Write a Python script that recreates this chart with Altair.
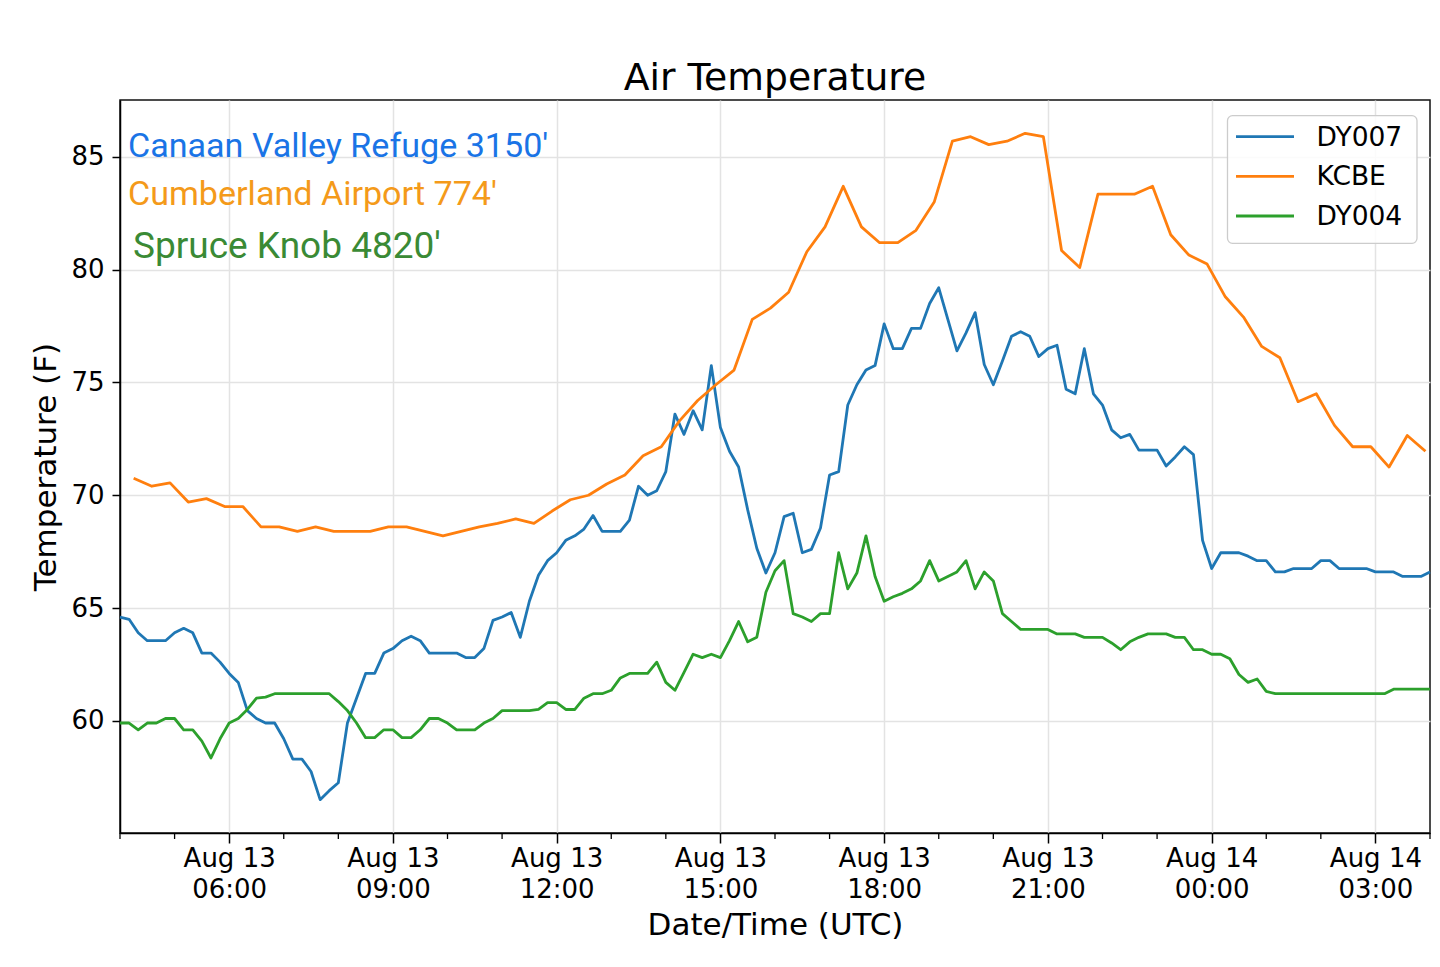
import altair as alt
import pandas as pd
from datetime import datetime, timedelta, timezone

# ---------------- data ----------------
STATIONS = ["DY007", "KCBE", "DY004"]
COLORS = ["#1f77b4", "#ff7f0e", "#2ca02c"]

# DY007 (Canaan Valley Refuge), every 10 min from Aug 13 04:00 UTC
DY007 = [64.6, 64.5, 63.9, 63.55, 63.55, 63.55, 63.9, 64.1, 63.9, 63.0,
         63.0, 62.6, 62.1, 61.7, 60.45, 60.1, 59.9, 59.9, 59.2, 58.3,
         58.3, 57.75, 56.5, 56.9, 57.25, 59.9, 61.0, 62.1, 62.1, 63.0,
         63.2, 63.55, 63.75, 63.55, 63.0, 63.0, 63.0, 63.0, 62.8, 62.8,
         63.2, 64.45, 64.6, 64.8, 63.7, 65.3, 66.45, 67.1, 67.45, 68.0,
         68.2, 68.5, 69.1, 68.4, 68.4, 68.4, 68.9, 70.4, 70.0, 70.2,
         71.05, 73.6, 72.7, 73.75, 72.9, 75.75, 73.0, 71.95, 71.25, 69.35,
         67.65, 66.55, 67.45, 69.05, 69.2, 67.45, 67.6, 68.55, 70.9, 71.05,
         74.0, 74.9, 75.55, 75.75, 77.6, 76.5, 76.5, 77.4, 77.4, 78.5,
         79.2, 77.8, 76.4, 77.2, 78.1, 75.8, 74.9, 75.95, 77.05, 77.25,
         77.05, 76.15, 76.5, 76.65, 74.7, 74.5, 76.5, 74.5, 74.0, 72.9,
         72.55, 72.7, 72.0, 72.0, 72.0, 71.3, 71.7, 72.15, 71.8, 68.0,
         66.75, 67.45, 67.45, 67.45, 67.3, 67.1, 67.1, 66.6, 66.6, 66.75,
         66.75, 66.75, 67.1, 67.1, 66.75, 66.75, 66.75, 66.75, 66.6, 66.6,
         66.6, 66.4, 66.4, 66.4, 66.6]

# DY004 (Spruce Knob), every 10 min from Aug 13 04:00 UTC
DY004 = [59.9, 59.9, 59.6, 59.9, 59.9, 60.1, 60.1, 59.6, 59.6, 59.1,
         58.35, 59.2, 59.9, 60.1, 60.5, 61.0, 61.05, 61.2, 61.2, 61.2,
         61.2, 61.2, 61.2, 61.2, 60.85, 60.45, 59.9, 59.25, 59.25, 59.6,
         59.6, 59.25, 59.25, 59.6, 60.1, 60.1, 59.9, 59.6, 59.6, 59.6,
         59.9, 60.1, 60.45, 60.45, 60.45, 60.45, 60.5, 60.8, 60.8, 60.5,
         60.5, 61.0, 61.2, 61.2, 61.35, 61.9, 62.1, 62.1, 62.1, 62.6,
         61.7, 61.35, 62.15, 62.95, 62.8, 62.95, 62.8, 63.55, 64.4, 63.5,
         63.7, 65.7, 66.65, 67.1, 64.75, 64.6, 64.4, 64.75, 64.75, 67.45,
         65.85, 66.55, 68.2, 66.4, 65.3, 65.5, 65.65, 65.85, 66.2, 67.1,
         66.2, 66.4, 66.6, 67.1, 65.85, 66.6, 66.2, 64.75, 64.4, 64.05,
         64.05, 64.05, 64.05, 63.85, 63.85, 63.85, 63.7, 63.7, 63.7, 63.45,
         63.15, 63.5, 63.7, 63.85, 63.85, 63.85, 63.7, 63.7, 63.15, 63.15,
         62.95, 62.95, 62.75, 62.05, 61.7, 61.85, 61.3, 61.2, 61.2, 61.2,
         61.2, 61.2, 61.2, 61.2, 61.2, 61.2, 61.2, 61.2, 61.2, 61.2,
         61.4, 61.4, 61.4, 61.4, 61.4]

# KCBE (Cumberland Airport), every 20 min from Aug 13 04:15 UTC
KCBE = [70.75, 70.4, 70.55, 69.7, 69.85, 69.5, 69.5, 68.6, 68.6, 68.4,
        68.6, 68.4, 68.4, 68.4, 68.6, 68.6, 68.4, 68.2, 68.4, 68.6,
        68.75, 68.95, 68.75, 69.3, 69.8, 70.0, 70.5, 70.9, 71.75, 72.15,
        73.3, 74.2, 74.9, 75.55, 77.8, 78.3, 79.0, 80.8, 81.9, 83.7,
        81.9, 81.2, 81.2, 81.75, 83.0, 85.7, 85.9, 85.55, 85.7, 86.05,
        85.9, 80.85, 80.1, 83.35, 83.35, 83.35, 83.7, 81.55, 80.65, 80.25,
        78.8, 77.9, 76.6, 76.1, 74.15, 74.5, 73.1, 72.15, 72.15, 71.25,
        72.65, 71.95]

MESONET_START = datetime(2019, 8, 13, 4, 0, tzinfo=timezone.utc)
MESONET_STEP_MIN = 10
KCBE_START = datetime(2019, 8, 13, 4, 15, tzinfo=timezone.utc)
KCBE_STEP_MIN = 20

X_START = datetime(2019, 8, 13, 4, 0, tzinfo=timezone.utc)
X_END = datetime(2019, 8, 14, 4, 0, tzinfo=timezone.utc)
MAJOR_HOURS = [6, 9, 12, 15, 18, 21, 24, 27]          # hours after Aug 13 00:00
MINOR_HOURS = [4, 5, 7, 8, 10, 11, 13, 14, 16, 17, 19, 20, 22, 23, 25, 26, 28]
Y_TICKS = [60, 65, 70, 75, 80, 85]

ANNOT_TEXT = ["Canaan Valley Refuge 3150'", "Cumberland Airport 774'", "Spruce Knob 4820'"]
ANNOT_COLORS = ["#1a74e6", "#f49a1a", "#3a8a35"]
ANNOT_SIZES = [34.1, 34.1, 37]

# ---------------- helpers ----------------
DAY0 = datetime(2019, 8, 13, 0, 0, tzinfo=timezone.utc)


def iso(dt):
    return dt.strftime("%Y-%m-%dT%H:%M:%SZ")


def ms(dt):
    return int(dt.timestamp() * 1000)


rows = []
for name, vals, start, step in [("DY007", DY007, MESONET_START, MESONET_STEP_MIN),
                                ("KCBE", KCBE, KCBE_START, KCBE_STEP_MIN),
                                ("DY004", DY004, MESONET_START, MESONET_STEP_MIN)]:
    for k, v in enumerate(vals):
        rows.append({"time": iso(start + timedelta(minutes=step * k)),
                     "temp": v, "station": name})
df = pd.DataFrame(rows)

allv = DY007 + DY004 + KCBE
span = max(allv) - min(allv)
y_lo = min(allv) - 0.05 * span
y_hi = max(allv) + 0.05 * span

major_ms = [ms(DAY0 + timedelta(hours=h)) for h in MAJOR_HOURS]
minor_df = pd.DataFrame({"time": [iso(DAY0 + timedelta(hours=h)) for h in MINOR_HOURS]})

W, H = 1310, 733
FONT = "DejaVu Sans"
GRID = "#e3e3e3"

x_axis = alt.Axis(
    values=major_ms,
    labelExpr="[utcFormat(datum.value, '%b %d'), utcFormat(datum.value, '%H:%M')]",
    labelFont=FONT, labelFontSize=26, labelColor="black", labelPadding=2,
    labelLineHeight=31, labelOverlap=False, labelFlush=False,
    tickSize=10, tickWidth=1.5, tickColor="black",
    domainColor="black", domainWidth=1.5,
    grid=True, gridColor=GRID, gridWidth=1.5,
    title="Date/Time (UTC)", titleFont=FONT, titleFontSize=31,
    titleFontWeight="normal", titleColor="black",
    titleBaseline="alphabetic", titleY=101,
)
y_axis = alt.Axis(
    values=Y_TICKS,
    labelFont=FONT, labelFontSize=26, labelColor="black", labelPadding=8,
    tickSize=8, tickWidth=1.5, tickColor="black",
    domainColor="black", domainWidth=1.5,
    grid=True, gridColor=GRID, gridWidth=1.5,
    title="Temperature (F)", titleFont=FONT, titleFontSize=31,
    titleFontWeight="normal", titleColor="black",
    titleAngle=270, titleAlign="center", titleBaseline="alphabetic",
    titleX=-65, titleY=H / 2,
)

x_scale = alt.Scale(type="utc", domain=[ms(X_START), ms(X_END)], nice=False)

lines = alt.Chart(df).mark_line(strokeWidth=2.8, strokeJoin="round").encode(
    x=alt.X("time:T", scale=x_scale, axis=x_axis),
    y=alt.Y("temp:Q", scale=alt.Scale(domain=[y_lo, y_hi], nice=False, zero=False), axis=y_axis),
    color=alt.Color("station:N", scale=alt.Scale(domain=STATIONS, range=COLORS), legend=None),
    detail="station:N",
)

minor = alt.Chart(minor_df).mark_rule(color="black", strokeWidth=1.3).encode(
    x=alt.X("time:T"),
    y=alt.value(H), y2=alt.value(H + 6),
)

one = pd.DataFrame({"k": [0]})
layers = [lines, minor]

# station annotations (upper left)
ann_x = [8, 8, 13]
ann_y = [57, 105, 158]
for txt, col, fs, ax, ay in zip(ANNOT_TEXT, ANNOT_COLORS, ANNOT_SIZES, ann_x, ann_y):
    layers.append(alt.Chart(one).mark_text(
        text=txt, color=col, font="Roboto", fontSize=fs,
        align="left", baseline="alphabetic").encode(x=alt.value(ax), y=alt.value(ay)))

# legend (upper right)
layers.append(alt.Chart(one).mark_rect(
    fill="white", fillOpacity=0.85, stroke="#cccccc", strokeWidth=1.3, cornerRadius=5
).encode(x=alt.value(1107.5), x2=alt.value(1297), y=alt.value(15.7), y2=alt.value(143.3)))
leg_y = [36.7, 76.3, 116]
for name, col, ly in zip(STATIONS, COLORS, leg_y):
    layers.append(alt.Chart(one).mark_rule(color=col, strokeWidth=2.8).encode(
        x=alt.value(1116), x2=alt.value(1174), y=alt.value(ly)))
    layers.append(alt.Chart(one).mark_text(
        text=name, color="black", font=FONT, fontSize=26.5,
        align="left", baseline="middle").encode(x=alt.value(1196.5), y=alt.value(ly + 1)))

chart = alt.layer(*layers).properties(
    width=W, height=H,
    title=alt.Title("Air Temperature", font=FONT, fontSize=37.7, fontWeight="normal",
                    color="black", anchor="middle", baseline="alphabetic", offset=-28),
    autosize=alt.AutoSizeParams(type="none"),
    padding={"left": 112, "top": 92, "right": 2, "bottom": 120},
    background="white",
).configure_view(stroke="#111111", strokeWidth=1.5)

chart.save("out.html", embed_options={"renderer": "svg", "actions": False})
